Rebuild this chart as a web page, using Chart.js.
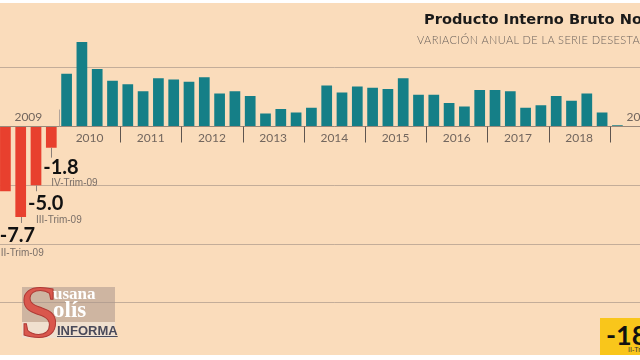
<!DOCTYPE html>
<html>
<head>
<meta charset="utf-8">
<script src="https://cdn.jsdelivr.net/npm/chart.js@4.4.0/dist/chart.umd.min.js"></script>
<style>
  html, body { margin: 0; padding: 0; background: #fff; width: 640px; height: 360px; overflow: hidden; }
  #stage { position: relative; width: 640px; height: 360px; overflow: hidden; }
  #paper { position: absolute; left: 0; top: 3px; width: 640px; height: 352px; background: #fadcbb; }
  #wrap { position: absolute; left: -20px; top: 0; width: 700px; height: 362px; }
  .title { position: absolute; left: 424px; top: 10px; white-space: nowrap;
    font: bold 14.6px "DejaVu Sans", sans-serif; color: #1a1a1a; }
  .subtitle { position: absolute; left: 417px; top: 33px; white-space: nowrap;
    font: 300 11px "Lato", "Open Sans", sans-serif; color: #6b625c; letter-spacing: 0.4px; }
  /* recuadro amarillo del II trimestre 2020 */
  .badge { position: absolute; left: 600px; top: 318px; width: 60px; height: 37px; background: #f9c61b; }
  .badge .v { position: absolute; left: 6px; top: 0px; font: bold 27px "Lato", sans-serif; color: #111; white-space: nowrap; }
  .badge .s { position: absolute; left: 28px; top: 28px; font: 7px "Liberation Sans Narrow", sans-serif; color: #333; white-space: nowrap; }
  /* marca de agua */
  .wm { position: absolute; left: 22px; top: 287px; width: 93px; height: 53px; }
  .wm .bg1 { position: absolute; left: 0; top: 0; width: 93px; height: 35px; background: rgba(170,150,140,0.55); }
  .wm .bg2 { position: absolute; left: 0; top: 35px; width: 93px; height: 16px; background: rgba(235,225,215,0.7); }
  .wm .big { position: absolute; left: -3px; top: -17px; font: 74px "Liberation Serif", serif; color: #d9574d; -webkit-text-stroke: 1px #b03a35; }
  .wm .t1 { position: absolute; left: 31px; top: -3px; font: bold 17px "Liberation Serif", serif; color: #fff; }
  .wm .t2 { position: absolute; left: 31px; top: 10px; font: bold 23px "Liberation Serif", serif; color: #fff; }
  .wm .t3 { position: absolute; left: 35px; top: 36px; font: bold 13px "Liberation Sans Narrow", sans-serif; color: #4a4a5a; text-decoration: underline; }
</style>
</head>
<body>
<div id="stage">
  <div id="paper"></div>
  <div id="wrap"><canvas id="pibChart" width="700" height="362"></canvas></div>
  <div class="title">Producto Interno Bruto Nominal</div>
  <div class="subtitle">VARIACIÓN ANUAL DE LA SERIE DESESTACIONALIZADA</div>
  <div class="wm">
    <div class="bg1"></div><div class="bg2"></div>
    <div class="big">S</div>
    <div class="t1">usana</div>
    <div class="t2">olís</div>
    <div class="t3">INFORMA</div>
  </div>
  <div class="badge"><div class="v">-18.9</div><div class="s">II-Trim-20</div></div>
</div>
<script>
  // ===============================
  // Datos
  // ===============================
  const years = ["2009", "2010", "2011", "2012", "2013", "2014", "2015", "2016", "2017", "2018", "2019"];
  const quarters = ["I", "II", "III", "IV"];
  const yearsAbove = ["2009", "2019"]; // años cuya etiqueta va sobre el eje

  // variación anual (%) de I-Trim-09 a I-Trim-19
  const values = [
    -5.5, -7.7, -5.0, -1.8,
    4.5, 7.2, 4.9, 3.9,
    3.6, 3.0, 4.1, 4.0,
    3.8, 4.2, 2.8, 3.0,
    2.6, 1.1, 1.5, 1.2,
    1.6, 3.5, 2.9, 3.4,
    3.3, 3.2, 4.1, 2.7,
    2.7, 2.0, 1.7, 3.1,
    3.1, 3.0, 1.6, 1.8,
    2.6, 2.2, 2.8, 1.2,
    0.1
  ];

  const yTicks = [10, 5, 0, -5, -10, -15, -20];
  const calloutIdx = [1, 2, 3]; // trimestres con etiqueta de valor

  const quarterLabels = years.flatMap(y => quarters.map(q => q + "-Trim-" + y.slice(2)));

  const RED = "#e8402e";
  const TEAL = "#157f87";

  // ===============================
  // Plugin: años, separadores y etiquetas
  // ===============================
  const decorPlugin = {
    id: "decor",
    afterDatasetsDraw(chart) {
      const ctx = chart.ctx;
      const xs = chart.scales.x;
      const ys = chart.scales.y;
      const zero = ys.getPixelForValue(0);
      const half = (xs.getPixelForValue(1) - xs.getPixelForValue(0)) / 2;

      ctx.save();
      // etiquetas de año y separadores
      ctx.font = "12px 'Lato', sans-serif";
      ctx.textAlign = "center";
      ctx.textBaseline = "middle";
      years.forEach((yr, j) => {
        const a = xs.getPixelForValue(4 * j);
        const b = xs.getPixelForValue(4 * j + 3);
        const above = yearsAbove.includes(yr);
        ctx.fillStyle = "#72665e";
        ctx.fillText(yr, (a + b) / 2, above ? zero - 9 : zero + 12);
        if (j > 0) {
          const sx = Math.round(a - half) + 0.5;
          const up = yearsAbove.includes(years[j - 1]);
          ctx.strokeStyle = up ? "#b3a59b" : "#5e554f";
          ctx.lineWidth = 1;
          ctx.beginPath();
          if (up) { ctx.moveTo(sx, zero - 17); ctx.lineTo(sx, zero); }
          else { ctx.moveTo(sx, zero); ctx.lineTo(sx, zero + 16); }
          ctx.stroke();
        }
      });

      // etiquetas de valor de 2009
      const meta = chart.getDatasetMeta(0);
      const shifts = { 1: -21, 2: -8, 3: -8 };
      calloutIdx.forEach((i) => {
        const bar = meta.data[i];
        const bottom = bar.y;
        const cx = bar.x;
        ctx.strokeStyle = "#8c8079";
        ctx.beginPath();
        ctx.moveTo(Math.round(cx) + 0.5, bottom);
        ctx.lineTo(Math.round(cx) + 0.5, bottom + (i === 3 ? 10 : 6));
        ctx.stroke();

        const tx = cx + shifts[i];
        const ty = bottom + (i === 3 ? 20 : 18.5);
        ctx.textAlign = "left";
        ctx.fillStyle = "#111";
        ctx.font = "bold 20px 'Lato', sans-serif";
        ctx.fillText(values[i].toFixed(1), tx, ty);
        ctx.fillStyle = "#7a6f68";
        ctx.font = "10px 'Liberation Sans Narrow', sans-serif";
        if (i === 1) {
          ctx.textAlign = "right";
          ctx.fillText(quarterLabels[i], cx + 23, ty + 18);
        } else {
          ctx.fillText(quarterLabels[i], tx + 8, ty + 16);
        }
      });
      ctx.restore();
    }
  };

  // ===============================
  // Gráfica
  // ===============================
  const canvas = document.getElementById("pibChart");
  new Chart(canvas, {
    type: "bar",
    data: {
      labels: quarterLabels,
      datasets: [{
        data: values,
        backgroundColor: (c) => (c.raw < 0 ? RED : TEAL),
        borderWidth: 0,
        barPercentage: 0.7,
        categoryPercentage: 1.0
      }]
    },
    options: {
      responsive: false,
      animation: false,
      devicePixelRatio: 1,
      layout: { padding: { left: 17.75, right: 9.05, top: 9, bottom: 0.5 } },
      plugins: { legend: { display: false }, tooltip: { enabled: false } },
      scales: {
        x: { display: false },
        y: {
          min: yTicks[yTicks.length - 1],
          max: yTicks[0],
          afterBuildTicks: (s) => { s.ticks = yTicks.map(v => ({ value: v })); },
          ticks: { display: false },
          border: { display: false },
          grid: {
            drawTicks: false,
            lineWidth: 1,
            color: (c) => {
              const v = c.tick && c.tick.value;
              if (v === 10 || v === -20) return "rgba(0,0,0,0)";
              if (v === 0) return "rgba(120,108,100,0.75)";
              return "rgba(150,135,125,0.55)";
            },
            borderDash: (c) => (c.tick && c.tick.value === 5 ? [2, 2] : [])
          }
        }
      }
    },
    plugins: [decorPlugin]
  });
</script>
</body>
</html>
